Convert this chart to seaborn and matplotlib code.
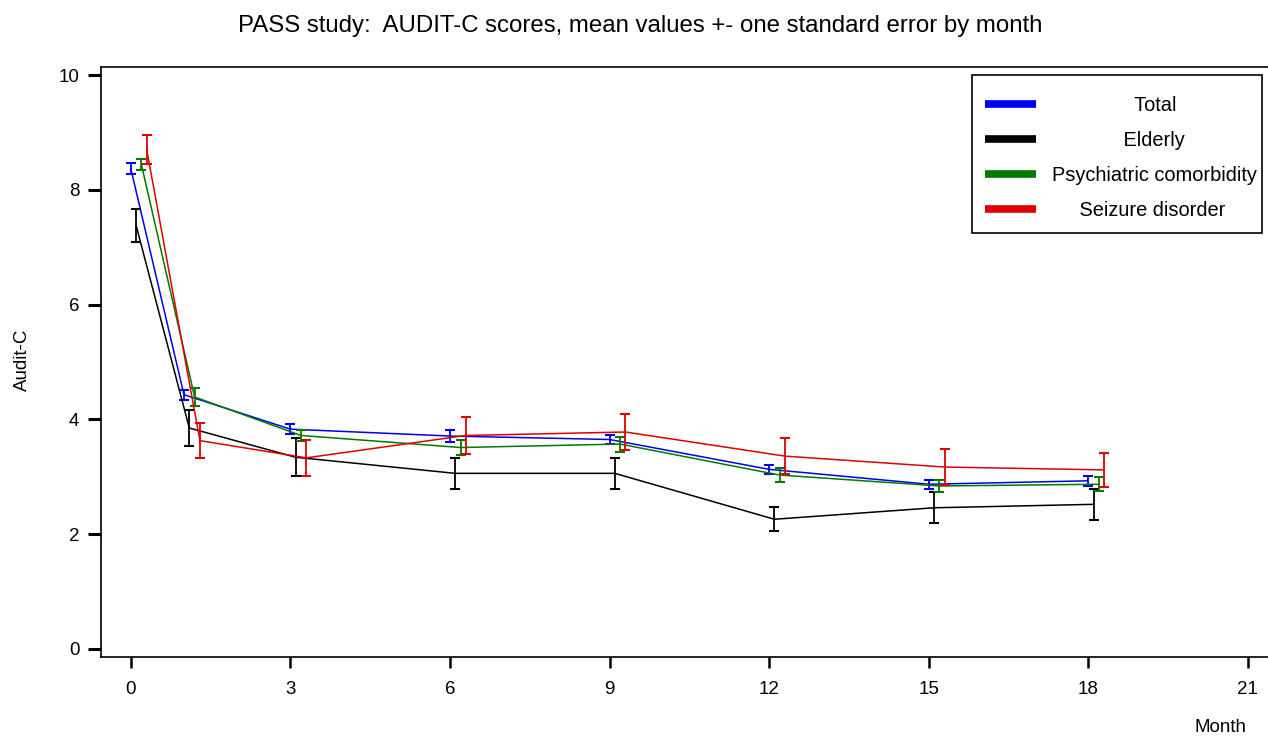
import numpy as np
import pandas as pd
import matplotlib
matplotlib.use('Agg')
import matplotlib.pyplot as plt
import seaborn as sns
from matplotlib.lines import Line2D
from matplotlib.patches import Rectangle
from matplotlib.textpath import TextPath
from matplotlib.font_manager import FontProperties

# data
months = [0, 1, 3, 6, 9, 12, 15, 18]
groups = ['Total', 'Elderly', 'Psychiatric comorbidity', 'Seizure disorder']

total_mean = [8.37, 4.43, 3.83, 3.71, 3.65, 3.13, 2.87, 2.93]
total_se = [0.09, 0.09, 0.09, 0.10, 0.08, 0.08, 0.08, 0.09]
elderly_mean = [7.38, 3.85, 3.34, 3.06, 3.06, 2.26, 2.46, 2.52]
elderly_se = [0.29, 0.32, 0.33, 0.27, 0.27, 0.21, 0.27, 0.27]
psych_mean = [8.44, 4.39, 3.72, 3.51, 3.57, 3.03, 2.84, 2.87]
psych_se = [0.10, 0.15, 0.10, 0.13, 0.13, 0.12, 0.11, 0.12]
seizure_mean = [8.70, 3.63, 3.33, 3.72, 3.78, 3.36, 3.17, 3.12]
seizure_se = [0.25, 0.30, 0.31, 0.33, 0.32, 0.31, 0.31, 0.30]

x_ticks = [0, 3, 6, 9, 12, 15, 18, 21]
y_ticks = [0, 2, 4, 6, 8, 10]

# styling
colors = {'Total': '#0000ee', 'Elderly': '#000000',
          'Psychiatric comorbidity': '#007a00', 'Seizure disorder': '#e00000'}
dodge = {'Total': 0.0, 'Elderly': 0.1, 'Psychiatric comorbidity': 0.2, 'Seizure disorder': 0.3}

means = [total_mean, elderly_mean, psych_mean, seizure_mean]
ses = [total_se, elderly_se, psych_se, seizure_se]

# long table: mean-se, mean, mean+se per point so seaborn draws mean and bars
rows = []
for g, m, s in zip(groups, means, ses):
    for mo, mv, sv in zip(months, m, s):
        for v in (mv - sv, mv, mv + sv):
            rows.append({'group': g, 'month': mo + dodge[g], 'audit': v})
df = pd.DataFrame(rows)

sns.set_style('white')
plt.rcParams['font.family'] = ['Liberation Sans', 'DejaVu Sans']
plt.rcParams['text.color'] = 'black'
plt.rcParams['axes.labelcolor'] = 'black'

W, H = 1268, 737
fig = plt.figure(figsize=(W / 100, H / 100), dpi=100)
ax = fig.add_axes([101 / W, 1 - 657 / H, 1167 / W, 590 / H])

sns.lineplot(data=df, x='month', y='audit', hue='group', hue_order=groups,
             palette=colors, estimator='mean',
             errorbar=lambda v: (v.min(), v.max()), err_style='bars',
             err_kws={'capsize': 3.3, 'elinewidth': 1.3, 'capthick': 1.5},
             linewidth=1.1, legend=False, ax=ax)

ax.set_xlim(-0.56, 21.38)
ax.set_ylim(-0.14, 10.14)
ax.set_xticks(x_ticks)
ax.set_yticks(y_ticks)
ax.tick_params(axis='y', direction='out', length=9.5, width=2.2, pad=6,
               labelsize=13.5, left=True, colors='black')
ax.tick_params(axis='x', direction='out', length=8, width=1.8, pad=9,
               labelsize=13.5, bottom=True, colors='black')
for side in ['left', 'bottom', 'top']:
    ax.spines[side].set_visible(True)
    ax.spines[side].set_color('black')
    ax.spines[side].set_linewidth(1.2)
ax.spines['right'].set_visible(False)

ax.set_xlabel('Month', fontsize=13.5)
ax.xaxis.set_label_coords((1220 - 101) / 1167, (657 - 728) / 590)
ax.xaxis.label.set_va('center')
ax.set_ylabel('Audit-C', fontsize=13.5)
ax.yaxis.set_label_coords((22 - 101) / 1167, 0.503)
ax.yaxis.label.set_va('center')

fig.text(0.505, 1 - 26 / H, 'PASS study:  AUDIT-C scores, mean values +- one standard error by month',
         ha='center', va='center', fontsize=17.3)

# legend labels centred in their column by padding with spaces
leg_size = 14.4
fp = FontProperties(family='Liberation Sans', size=leg_size)


def text_w(s):
    return TextPath((0, 0), s, prop=fp).get_extents().width


space_w = text_w('x x') - text_w('xx')
widest = max(text_w(g) for g in groups)
labels = [' ' * int(round((widest - text_w(g)) / 2 / space_w)) + g for g in groups]
handles = [Line2D([0], [0], color=colors[g], lw=5.5, solid_capstyle='butt') for g in groups]

leg = ax.legend(handles, labels, loc='upper left',
                bbox_to_anchor=((985 - 101) / 1167, (657 - 96) / 590),
                fontsize=leg_size, frameon=False, handlelength=2.55,
                handletextpad=0.8, labelspacing=0.8, borderpad=0,
                borderaxespad=0)
# square black frame around the legend
ax.add_patch(Rectangle(((972 - 101) / 1167, (657 - 233) / 590),
                       (1262 - 972) / 1167, (233 - 75) / 590,
                       transform=ax.transAxes, fill=False,
                       edgecolor='black', linewidth=1.2, zorder=5))

fig.savefig('out.png', dpi=100)
